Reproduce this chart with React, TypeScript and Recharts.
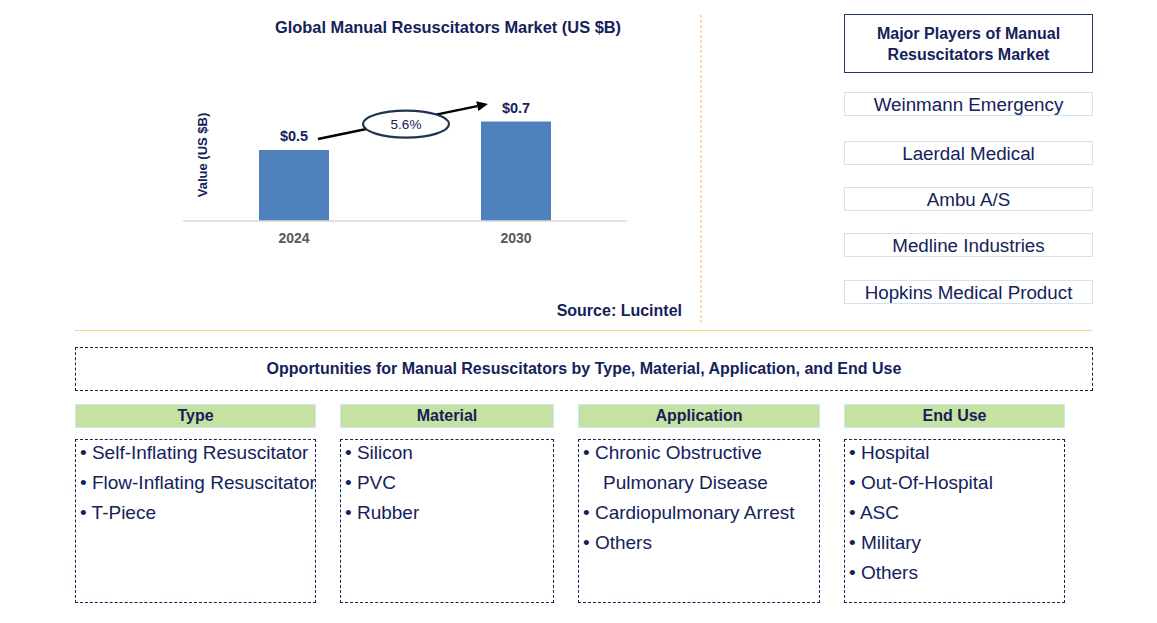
import React from 'react';
import { BarChart, Bar, XAxis, YAxis, LabelList, ReferenceLine } from 'recharts';

const years = ['2024', '2030'];
const values = [0.5, 0.7];
const valueLabels = ['$0.5', '$0.7'];
const cagr = '5.6%';
const arrowStart = 0.543;
const arrowEnd = 0.865;

const chartTitle = 'Global Manual Resuscitators Market (US $B)';
const yLabel = 'Value (US $B)';
const sourceText = 'Source: Lucintel';

const playersTitle = ['Major Players of Manual', 'Resuscitators Market'];
const players = ['Weinmann Emergency', 'Laerdal Medical', 'Ambu A/S', 'Medline Industries', 'Hopkins Medical Product'];

const oppTitle = 'Opportunities for Manual Resuscitators by Type, Material, Application, and End Use';
const segmentNames = ['Type', 'Material', 'Application', 'End Use'];
const typeItems = ['Self-Inflating Resuscitator', 'Flow-Inflating Resuscitator', 'T-Piece'];
const materialItems = ['Silicon', 'PVC', 'Rubber'];
const applicationItems = ['Chronic Obstructive|Pulmonary Disease', 'Cardiopulmonary Arrest', 'Others'];
const endUseItems = ['Hospital', 'Out-Of-Hospital', 'ASC', 'Military', 'Others'];
const segmentItems = [typeItems, materialItems, applicationItems, endUseItems];

const data = years.map((y, i) => ({ year: y, value: values[i], label: valueLabels[i] }));

const NAVY = '#14225a';
const FONT = 'Arial, "Liberation Sans", Helvetica, sans-serif';

const colLayout = [
  { x: 75, w: 241 },
  { x: 340, w: 214 },
  { x: 578, w: 242 },
  { x: 844, w: 221 },
];
const playerTops = [92, 141, 187, 233, 280];

const ArrowShape = (props: any) => {
  const { x1, y1, x2, y2 } = props;
  if (x1 == null || x2 == null) return null;
  const dx = x2 - x1;
  const dy = y2 - y1;
  const sx = x1 + dx * 0.108;
  const sy = y1 + dy * 0.108;
  const ex = x1 + dx * 0.874;
  const ey = y1 + dy * 0.874;
  const ang = Math.atan2(ey - sy, ex - sx);
  const len = 11;
  const hw = 5;
  const bx = ex - len * Math.cos(ang);
  const by = ey - len * Math.sin(ang);
  const p1 = `${ex},${ey}`;
  const p2 = `${bx - hw * Math.sin(ang)},${by + hw * Math.cos(ang)}`;
  const p3 = `${bx + hw * Math.sin(ang)},${by - hw * Math.cos(ang)}`;
  const mx = (x1 + x2) / 2 + 1;
  const my = (y1 + y2) / 2 + 3;
  return (
    <g>
      <line x1={sx} y1={sy} x2={bx} y2={by} stroke="#000" strokeWidth={2.5} />
      <polygon points={`${p1} ${p2} ${p3}`} fill="#000" />
      <ellipse cx={mx} cy={my} rx={43} ry={13.5} fill="#fff" stroke="#1f3350" strokeWidth={2.2} />
      <text x={mx} y={my + 5} textAnchor="middle" fontSize={13.5} fill={NAVY} fontFamily={FONT}>
        {cagr}
      </text>
    </g>
  );
};

export default function App() {
  return (
    <div
      style={{
        position: 'absolute',
        left: 0,
        top: 0,
        width: 1157,
        height: 623,
        background: '#fff',
        fontFamily: FONT,
        color: NAVY,
        overflow: 'hidden',
      }}
    >
      <div style={{ position: 'absolute', left: 0, top: 0 }}>
        <BarChart width={700} height={260} data={data} margin={{ top: 79, right: 73, left: 183, bottom: 9 }}>
          <XAxis
            dataKey="year"
            tickLine={false}
            axisLine={{ stroke: '#d9d9d9', strokeWidth: 1.5 }}
            tick={{ fill: '#595959', fontSize: 14, fontWeight: 'bold', fontFamily: FONT }}
            tickMargin={6}
          />
          <YAxis hide domain={[0, 1]} />
          <Bar dataKey="value" fill="#4f81bd" barSize={70} isAnimationActive={false}>
            <LabelList
              dataKey="label"
              position="top"
              offset={9}
              fill={NAVY}
              fontSize={14.5}
              fontWeight="bold"
              fontFamily={FONT}
            />
          </Bar>
          <ReferenceLine
            segment={[
              { x: years[0], y: arrowStart },
              { x: years[1], y: arrowEnd },
            ]}
            ifOverflow="visible"
            shape={ArrowShape}
          />
        </BarChart>
      </div>

      <svg
        width={1157}
        height={623}
        style={{ position: 'absolute', left: 0, top: 0, pointerEvents: 'none' }}
      >
        <text x={448} y={33} textAnchor="middle" fontSize={16.4} fontWeight="bold" fill={NAVY} fontFamily={FONT}>
          {chartTitle}
        </text>
        <text
          x={0}
          y={0}
          transform="translate(207,155) rotate(-90)"
          textAnchor="middle"
          fontSize={13}
          fontWeight="bold"
          fill={NAVY}
          fontFamily={FONT}
        >
          {yLabel}
        </text>
        <text x={682} y={316} textAnchor="end" fontSize={16} fontWeight="bold" fill={NAVY} fontFamily={FONT}>
          {sourceText}
        </text>
        <line x1={701} y1={15} x2={701} y2={325} stroke="#f2c14e" strokeWidth={1} strokeDasharray="3 2" />
        <line x1={75} y1={330.5} x2={1092} y2={330.5} stroke="#f5cd5a" strokeWidth={1} strokeDasharray="3 1" />
      </svg>

      {/* Major players */}
      <div
        style={{
          position: 'absolute',
          left: 844,
          top: 14,
          width: 249,
          height: 59,
          boxSizing: 'border-box',
          border: `1.5px solid #1f3864`,
          display: 'flex',
          flexDirection: 'column',
          alignItems: 'center',
          justifyContent: 'center',
          fontSize: 16,
          fontWeight: 'bold',
          lineHeight: '21px',
        }}
      >
        {playersTitle.map((t) => (
          <div key={t}>{t}</div>
        ))}
      </div>
      {players.map((p, i) => (
        <div
          key={p}
          style={{
            position: 'absolute',
            left: 844,
            top: playerTops[i],
            width: 249,
            height: 24,
            boxSizing: 'border-box',
            border: '1.5px solid #cde4f5',
            display: 'flex',
            alignItems: 'center',
            justifyContent: 'center',
            paddingTop: 2,
            fontSize: 18.8,
            whiteSpace: 'nowrap',
          }}
        >
          {p}
        </div>
      ))}

      {/* Opportunities */}
      <div
        style={{
          position: 'absolute',
          left: 75,
          top: 347,
          width: 1018,
          height: 44,
          boxSizing: 'border-box',
          border: `1px dashed ${NAVY}`,
          display: 'flex',
          alignItems: 'center',
          justifyContent: 'center',
          fontSize: 16,
          fontWeight: 'bold',
        }}
      >
        {oppTitle}
      </div>
      {segmentNames.map((name, i) => (
        <React.Fragment key={name}>
          <div
            style={{
              position: 'absolute',
              left: colLayout[i].x,
              top: 404,
              width: colLayout[i].w,
              height: 24,
              boxSizing: 'border-box',
              background: '#c6e2a0',
              border: '1.5px solid #cfe5f7',
              display: 'flex',
              alignItems: 'center',
              justifyContent: 'center',
              fontSize: 16,
              fontWeight: 'bold',
            }}
          >
            {name}
          </div>
          <div
            style={{
              position: 'absolute',
              left: colLayout[i].x,
              top: 439,
              width: colLayout[i].w,
              height: 164,
              boxSizing: 'border-box',
              border: `1px dashed ${NAVY}`,
            }}
          >
            <div style={{ position: 'absolute', left: 4, top: -2, fontSize: 19, lineHeight: '30px', whiteSpace: 'nowrap' }}>
              {segmentItems[i].map((item) => {
                const parts = item.split('|');
                return (
                  <React.Fragment key={item}>
                    <div>{'\u2022 ' + parts[0]}</div>
                    {parts.slice(1).map((cont) => (
                      <div key={cont} style={{ paddingLeft: 20 }}>
                        {cont}
                      </div>
                    ))}
                  </React.Fragment>
                );
              })}
            </div>
          </div>
        </React.Fragment>
      ))}
    </div>
  );
}
